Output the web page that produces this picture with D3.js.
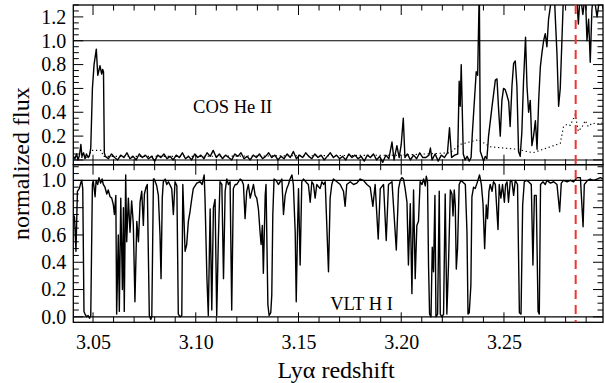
<!DOCTYPE html>
<html><head><meta charset="utf-8">
<script src="https://cdn.jsdelivr.net/npm/d3@7"></script>
<style>body{margin:0;background:#fff}svg{display:block}</style>
</head><body><svg id="c" width="605" height="383"></svg>
<script>
// ---- data: [Lyα redshift, normalized flux] ----
const heII = [
[3.0405,0.03],[3.0412,0.01],[3.0420,0.05],[3.0427,0.00],[3.0434,0.04],[3.0441,0.13],[3.0446,0.03],[3.0454,0.06],
[3.0461,0.01],[3.0468,0.05],[3.0476,0.02],[3.0483,0.04],[3.0489,0.10],[3.0497,0.60],[3.0505,0.80],[3.0516,0.93],
[3.0523,0.71],[3.0534,0.79],[3.0542,0.72],[3.0547,0.76],[3.0551,0.74],[3.0555,0.06],
[3.0560,0.03],[3.0575,0.01],[3.0590,0.05],[3.0605,0.02],[3.0620,0.00],[3.0635,0.04],[3.0650,0.02],[3.0665,0.06],
[3.0680,0.01],[3.0695,0.03],[3.0710,0.00],[3.0725,0.05],[3.0740,0.02],[3.0755,0.04],[3.0770,0.01],[3.0785,0.03],
[3.0800,-0.01],[3.0815,0.04],[3.0830,0.02],[3.0845,0.05],[3.0860,0.01],[3.0875,0.03],[3.0890,0.00],[3.0905,0.04],
[3.0920,0.02],[3.0935,0.06],[3.0950,0.01],[3.0965,0.03],[3.0980,0.00],[3.0995,0.05],[3.1010,0.02],[3.1025,0.04],
[3.1040,0.01],[3.1055,0.06],[3.1070,0.03],[3.1085,0.08],[3.1100,0.02],[3.1115,0.05],[3.1130,0.01],[3.1145,0.04],
[3.1160,0.02],[3.1175,0.00],[3.1190,0.05],[3.1205,0.03],[3.1220,0.06],[3.1235,0.01],[3.1250,0.03],[3.1265,0.00],
[3.1280,0.04],[3.1295,0.02],[3.1310,0.05],[3.1325,0.01],[3.1340,0.03],[3.1355,0.06],[3.1370,0.02],[3.1385,0.04],
[3.1400,0.00],[3.1415,0.03],[3.1430,0.01],[3.1445,0.05],[3.1460,0.02],[3.1475,0.07],[3.1490,0.01],[3.1505,0.04],
[3.1520,0.02],[3.1535,0.06],[3.1550,0.03],[3.1565,0.01],[3.1580,0.05],[3.1595,0.02],[3.1610,0.04],[3.1625,0.00],
[3.1640,0.03],[3.1655,0.06],[3.1670,0.02],[3.1685,0.04],[3.1700,0.01],[3.1715,0.03],[3.1730,0.00],[3.1745,0.05],
[3.1760,0.02],[3.1775,0.04],[3.1790,0.01],[3.1805,0.03],[3.1820,-0.01],[3.1835,0.04],[3.1850,0.02],[3.1865,0.05],
[3.1880,0.00],[3.1895,0.03],[3.1910,-0.02],[3.1925,0.04],[3.1940,0.01],[3.1955,0.15],[3.1965,0.00],[3.1979,0.12],
[3.1990,0.02],[3.2000,0.13],[3.2010,0.35],[3.2018,0.02],[3.2030,0.05],[3.2045,0.00],[3.2060,0.04],[3.2075,0.01],
[3.2090,0.06],[3.2105,0.02],[3.2120,0.02],[3.2135,0.04],[3.2142,0.10],[3.2150,0.00],[3.2165,0.05],[3.2180,-0.01],
[3.2195,0.04],[3.2210,0.02],[3.2225,0.06],[3.2235,0.27],[3.2245,0.02],[3.2260,0.04],[3.2275,0.05],[3.2282,0.66],
[3.2287,0.45],[3.2292,0.80],[3.2302,0.05],[3.2311,0.00],[3.2321,0.03],[3.2331,-0.01],[3.2340,0.02],[3.2346,0.22],
[3.2365,0.74],[3.2372,0.71],[3.2380,1.45],[3.2385,0.07],[3.2395,0.02],[3.2401,-0.01],[3.2409,0.03],[3.2417,0.01],
[3.2425,0.20],[3.2442,0.45],[3.2458,0.67],[3.2466,0.68],[3.2474,0.42],[3.2482,0.20],[3.2490,0.50],[3.2498,0.60],
[3.2506,0.59],[3.2515,0.54],[3.2523,0.49],[3.2530,0.28],[3.2539,0.62],[3.2547,0.81],[3.2555,0.83],[3.2563,0.62],
[3.2571,0.07],[3.2579,0.03],[3.2587,0.23],[3.2595,0.65],[3.2605,1.03],[3.2612,0.62],[3.2620,0.40],[3.2628,0.50],
[3.2636,0.12],[3.2644,0.20],[3.2653,0.33],[3.2661,0.09],[3.2669,0.50],[3.2677,0.78],[3.2685,0.90],[3.2693,1.00],
[3.2701,1.06],[3.2709,0.95],[3.2717,1.18],[3.2726,1.29],[3.2734,1.40],[3.2745,1.40],[3.2750,1.19],[3.2758,0.89],
[3.2766,0.45],[3.2774,0.60],[3.2782,1.00],[3.2790,1.40],[3.2852,1.45],[3.2862,1.14],[3.2871,1.40],[3.2884,1.22],
[3.2896,1.40],[3.2904,1.00],[3.2912,1.18],[3.2920,0.82],[3.2928,1.26],[3.2936,1.40],[3.2953,1.20],[3.2969,1.40],
[3.2984,1.26]
];
const heIIerr = [
[3.0404,0.02],[3.0480,0.02],[3.0490,0.08],[3.0540,0.08],[3.0550,0.03],[3.1000,0.03],[3.2000,0.04],[3.2238,0.06],
[3.2287,0.13],[3.2375,0.17],[3.2433,0.11],[3.2563,0.09],[3.2641,0.06],[3.2725,0.11],[3.2774,0.14],[3.2790,0.28],
[3.2808,0.30],[3.2823,0.29],[3.2847,0.38],[3.2862,0.24],[3.2881,0.28],[3.2896,0.33],[3.2910,0.28],[3.2930,0.31],
[3.2954,0.30],[3.2979,0.31]
];
const hI = [
[3.0404,0.75],[3.0410,0.73],[3.0415,0.55],[3.0417,0.48],[3.0424,0.92],[3.0433,0.94],[3.0440,0.98],[3.0445,1.00],
[3.0450,0.94],[3.0456,0.04],[3.0461,0.02],[3.0469,0.00],[3.0476,0.01],[3.0483,-0.01],[3.0489,0.01],[3.0493,0.50],
[3.0497,0.97],[3.0501,1.00],[3.0510,0.88],[3.0515,1.00],[3.0523,0.97],[3.0529,1.02],[3.0537,0.98],[3.0544,1.01],
[3.0550,0.97],[3.0558,0.95],[3.0567,0.90],[3.0574,0.93],[3.0583,0.88],[3.0591,0.87],[3.0599,0.82],[3.0604,0.75],
[3.0611,0.89],[3.0615,0.02],[3.0623,0.60],[3.0628,0.04],[3.0635,0.87],[3.0643,0.20],[3.0648,0.80],[3.0652,0.04],
[3.0659,1.04],[3.0664,0.55],[3.0672,0.87],[3.0680,0.62],[3.0688,0.85],[3.0696,0.68],[3.0704,0.11],[3.0713,0.70],
[3.0721,0.55],[3.0729,0.84],[3.0737,0.92],[3.0745,0.67],[3.0750,0.90],[3.0758,0.95],[3.0764,0.97],[3.0774,0.01],
[3.0781,-0.02],[3.0786,0.00],[3.0794,1.01],[3.0798,1.01],[3.0810,0.96],[3.0818,0.89],[3.0826,0.60],[3.0831,0.28],
[3.0837,0.87],[3.0842,0.99],[3.0851,1.01],[3.0859,0.97],[3.0867,0.99],[3.0883,0.94],[3.0891,0.75],[3.0899,0.99],
[3.0908,0.96],[3.0915,0.02],[3.0924,0.00],[3.0932,0.01],[3.0937,0.97],[3.0948,0.48],[3.0956,0.53],[3.0964,0.70],
[3.0972,0.77],[3.0981,0.87],[3.0988,0.94],[3.1005,0.98],[3.1021,0.99],[3.1031,0.97],[3.1041,1.04],[3.1045,0.87],
[3.1054,0.30],[3.1061,0.01],[3.1070,0.79],[3.1078,0.05],[3.1086,0.80],[3.1094,0.86],[3.1102,0.01],[3.1110,0.57],
[3.1118,0.99],[3.1127,0.97],[3.1135,0.28],[3.1143,0.92],[3.1151,1.01],[3.1159,0.97],[3.1167,0.99],[3.1175,0.05],
[3.1183,0.94],[3.1192,0.97],[3.1200,0.97],[3.1208,0.99],[3.1216,1.01],[3.1224,1.00],[3.1232,0.97],[3.1240,0.72],
[3.1248,0.92],[3.1256,0.97],[3.1265,0.87],[3.1273,0.92],[3.1281,0.97],[3.1289,0.89],[3.1297,0.87],[3.1305,0.79],
[3.1313,0.62],[3.1318,0.53],[3.1324,0.67],[3.1329,0.32],[3.1338,0.89],[3.1342,0.97],[3.1351,0.09],[3.1357,0.01],
[3.1365,0.03],[3.1370,0.16],[3.1375,0.75],[3.1381,1.01],[3.1391,1.00],[3.1402,0.97],[3.1411,0.99],[3.1419,1.01],
[3.1427,0.75],[3.1435,0.89],[3.1443,0.94],[3.1451,0.97],[3.1459,1.01],[3.1468,1.04],[3.1475,0.97],[3.1484,0.62],
[3.1489,0.11],[3.1495,0.62],[3.1500,0.94],[3.1508,0.38],[3.1516,0.99],[3.1524,1.01],[3.1541,0.98],[3.1548,0.97],
[3.1557,0.84],[3.1565,0.99],[3.1573,0.97],[3.1581,0.87],[3.1589,0.97],[3.1605,0.94],[3.1614,0.99],[3.1622,0.97],
[3.1630,0.99],[3.1646,0.33],[3.1654,0.87],[3.1662,0.97],[3.1670,1.01],[3.1687,0.99],[3.1703,0.97],[3.1719,0.92],
[3.1727,0.81],[3.1735,0.97],[3.1752,0.99],[3.1768,0.97],[3.1784,0.98],[3.1800,1.01],[3.1816,1.00],[3.1833,0.97],
[3.1849,0.95],[3.1862,0.81],[3.1873,0.97],[3.1888,0.57],[3.1898,0.94],[3.1914,0.97],[3.1927,0.56],[3.1938,0.97],
[3.1955,0.99],[3.1976,0.49],[3.1987,0.94],[3.1995,1.00],[3.2003,1.02],[3.2011,1.01],[3.2019,0.94],[3.2028,0.84],
[3.2035,0.38],[3.2044,0.83],[3.2052,0.17],[3.2060,0.93],[3.2068,0.28],[3.2076,0.67],[3.2084,0.70],[3.2092,0.99],
[3.2101,0.97],[3.2109,1.01],[3.2117,0.96],[3.2122,1.03],[3.2128,0.99],[3.2133,0.37],[3.2138,0.02],[3.2145,0.00],
[3.2151,0.51],[3.2157,0.33],[3.2164,0.89],[3.2169,0.00],[3.2177,0.02],[3.2185,0.92],[3.2190,0.02],[3.2198,0.00],
[3.2206,0.02],[3.2214,0.90],[3.2222,0.02],[3.2230,0.38],[3.2239,0.93],[3.2247,0.90],[3.2252,0.74],[3.2258,0.93],
[3.2263,0.82],[3.2268,0.35],[3.2274,0.50],[3.2282,0.97],[3.2291,1.00],[3.2298,0.99],[3.2312,0.97],[3.2320,0.62],
[3.2325,0.02],[3.2331,0.03],[3.2339,0.23],[3.2344,0.88],[3.2352,0.95],[3.2360,0.94],[3.2369,0.98],[3.2381,1.04],
[3.2390,0.97],[3.2398,0.83],[3.2406,0.50],[3.2414,0.82],[3.2420,0.72],[3.2427,0.92],[3.2433,0.97],[3.2442,0.92],
[3.2449,0.99],[3.2458,0.97],[3.2471,0.64],[3.2477,0.97],[3.2485,0.87],[3.2493,0.97],[3.2502,0.84],[3.2508,0.97],
[3.2515,0.99],[3.2522,0.84],[3.2531,1.00],[3.2539,0.99],[3.2547,0.89],[3.2555,1.00],[3.2566,0.97],[3.2575,0.03],
[3.2583,0.02],[3.2591,0.82],[3.2599,0.99],[3.2609,1.00],[3.2620,0.99],[3.2633,0.97],[3.2641,0.38],[3.2648,0.89],
[3.2657,0.89],[3.2666,0.04],[3.2672,0.02],[3.2678,0.97],[3.2690,0.99],[3.2701,0.97],[3.2709,1.00],[3.2726,0.98],
[3.2742,0.99],[3.2758,0.97],[3.2771,0.77],[3.2779,0.98],[3.2790,1.00],[3.2807,0.99],[3.2823,1.00],[3.2839,0.99],
[3.2856,1.02],[3.2872,1.02],[3.2885,0.66],[3.2891,0.97],[3.2907,1.00],[3.2920,1.01],[3.2936,1.00],[3.2953,1.01],
[3.2969,1.02],[3.2984,1.01]
];
const zDomain = [3.0404, 3.2982];
const zMarker = 3.2849;
const xTickLabels = [3.05, 3.10, 3.15, 3.20, 3.25];
const topTickLabels = [0.0, 0.2, 0.4, 0.6, 0.8, 1.0, 1.2];
const botTickLabels = [0.0, 0.2, 0.4, 0.6, 0.8, 1.0];
const topLabel = "COS He II", botLabel = "VLT H I";

// ---- drawing ----
const svg = d3.select("#c");
const L = 73.3, R = 603, T = 5, M = 164.7, B = 322.3;
const font = "'Liberation Serif','Times New Roman',serif";
const x = d3.scaleLinear().domain(zDomain).range([L, R]);
const yTop = d3.scaleLinear().domain([-0.04, 1.3]).range([M, T]);
const yBot = d3.scaleLinear().domain([-0.04, 1.115]).range([B, M]);

const defs = svg.append("defs");
defs.append("clipPath").attr("id","cTop").append("rect").attr("x",L).attr("y",T).attr("width",R-L).attr("height",M-T);
defs.append("clipPath").attr("id","cBot").append("rect").attr("x",L).attr("y",M).attr("width",R-L).attr("height",B-M);

function panel(y, top, bot, data, err, tickVals, clip) {
  const g = svg.append("g");
  [0, 1].forEach(v => g.append("line").attr("x1",L).attr("x2",R).attr("y1",y(v)).attr("y2",y(v))
     .attr("stroke","#000").attr("stroke-width",1.1));
  const line = d3.line().x(d=>x(d[0])).y(d=>y(d[1]));
  const cg = g.append("g").attr("clip-path",`url(#${clip})`);
  if (err) cg.append("path").attr("d", line(err)).attr("fill","none").attr("stroke","#000")
      .attr("stroke-width",1.1).attr("stroke-dasharray","1.3,2.7");
  cg.append("path").attr("d", line(data)).attr("fill","none").attr("stroke","#000")
      .attr("stroke-width",1.4).attr("stroke-linejoin","round");
  const yMinor = d3.range(0, y.domain()[1]+1e-9, 0.05);
  yMinor.forEach(v => {
    const major = Math.abs(v/0.2 - Math.round(v/0.2)) < 1e-6;
    const len = major ? 10 : 5.5;
    g.append("line").attr("x1",L).attr("x2",L+len).attr("y1",y(v)).attr("y2",y(v)).attr("stroke","#000").attr("stroke-width",1);
    g.append("line").attr("x1",R-len).attr("x2",R).attr("y1",y(v)).attr("y2",y(v)).attr("stroke","#000").attr("stroke-width",1);
  });
  const ax = d3.axisLeft(y).tickValues(tickVals).tickSize(0).tickPadding(7).tickFormat(d3.format(".1f"));
  const ag = g.append("g").attr("transform",`translate(${L},0)`).call(ax);
  ag.select(".domain").remove();
  ag.selectAll("text").attr("font-family",font).attr("font-size",20).attr("fill","#000");
  const xMinor = d3.range(3.05, zDomain[1], 0.01).concat([3.04]).filter(v => v >= zDomain[0]);
  xMinor.forEach(v => {
    const major = Math.abs(v/0.05 - Math.round(v/0.05)) < 1e-6;
    const len = major ? 10 : 5.5;
    g.append("line").attr("x1",x(v)).attr("x2",x(v)).attr("y1",bot).attr("y2",bot-len).attr("stroke","#000").attr("stroke-width",1);
    g.append("line").attr("x1",x(v)).attr("x2",x(v)).attr("y1",top).attr("y2",top+len).attr("stroke","#000").attr("stroke-width",1);
  });
  g.append("rect").attr("x",L).attr("y",top).attr("width",R-L).attr("height",bot-top)
    .attr("fill","none").attr("stroke","#000").attr("stroke-width",1.3);
}
panel(yTop, T, M, heII, heIIerr, topTickLabels, "cTop");
panel(yBot, M, B, hI, null, botTickLabels, "cBot");

const xa = d3.axisBottom(x).tickValues(xTickLabels).tickSize(0).tickPadding(13).tickFormat(d3.format(".2f"));
const xg = svg.append("g").attr("transform",`translate(0,${B})`).call(xa);
xg.select(".domain").remove();
xg.selectAll("text").attr("font-family",font).attr("font-size",20).attr("fill","#000");

svg.append("line").attr("x1",x(zMarker)).attr("x2",x(zMarker)).attr("y1",T).attr("y2",B)
  .attr("stroke","#ee3333").attr("stroke-width",2).attr("stroke-dasharray","9,6");

svg.append("text").attr("x",x(3.0987)).attr("y",yTop(0.393)).text(topLabel)
  .attr("font-family",font).attr("font-size",18.5).attr("fill","#000");
svg.append("text").attr("x",x(3.1654)).attr("y",yBot(0.05)).text(botLabel)
  .attr("font-family",font).attr("font-size",18.5).attr("fill","#000");

svg.append("text").attr("x",(L+R)/2 - 2).attr("y",378).attr("text-anchor","middle")
  .attr("font-family",font).attr("font-size",24).attr("fill","#000").text("Lyα redshift");
svg.append("text").attr("transform",`translate(29,${(T+B)/2}) rotate(-90)`).attr("text-anchor","middle")
  .attr("font-family",font).attr("font-size",24).attr("fill","#000").text("normalized flux");
</script></body></html>
